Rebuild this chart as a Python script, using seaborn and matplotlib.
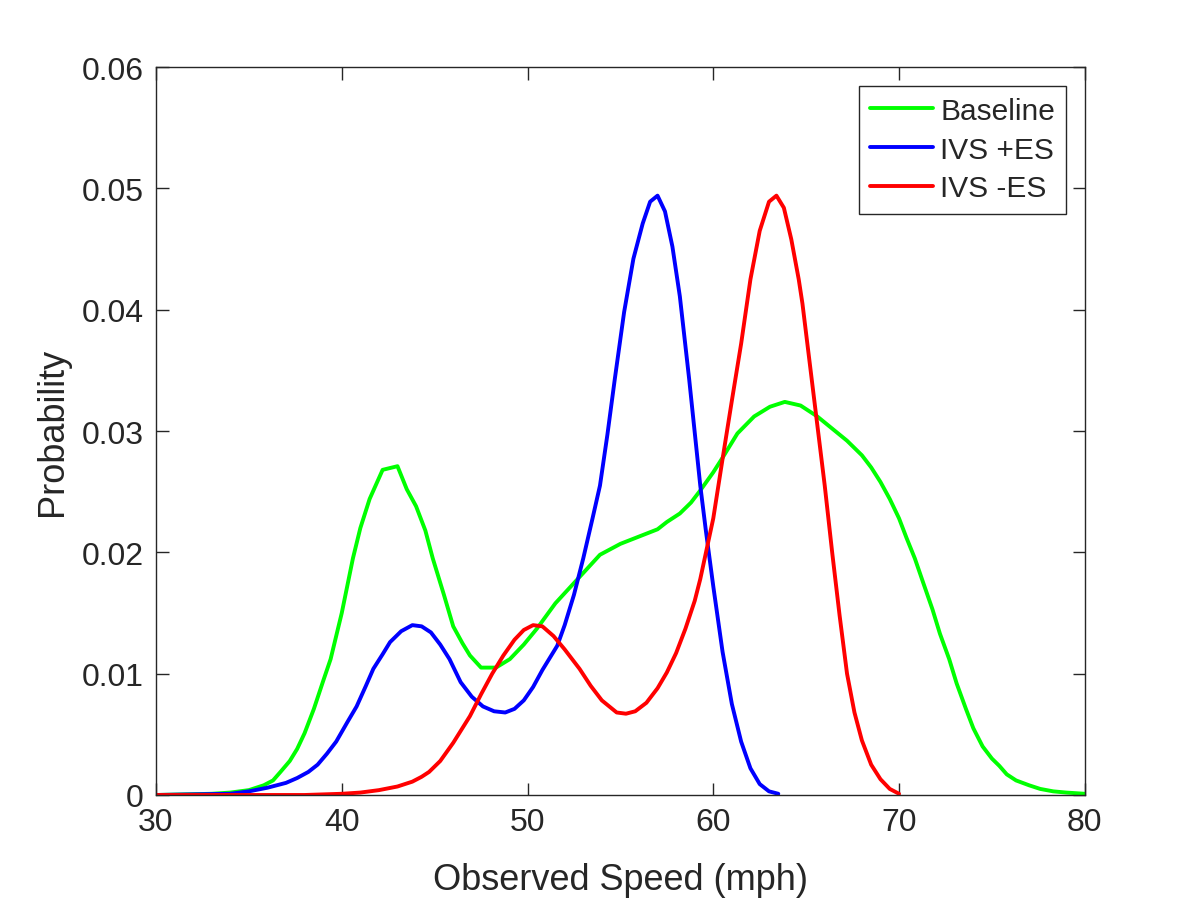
import matplotlib
matplotlib.use("Agg")
import matplotlib.pyplot as plt
import seaborn as sns
import pandas as pd
from matplotlib.ticker import FuncFormatter

# Baseline
base_x = [30, 33, 34, 35, 35.8, 36.3, 36.7, 37.2, 37.6, 38.0, 38.5, 39.0, 39.4, 40.0, 40.6,
          41.0, 41.5, 42.2, 43.0, 43.5, 44.0, 44.5, 44.9, 45.5, 46.0, 46.5, 46.9, 47.5, 48.3,
          49.05, 49.8, 50.5, 51.5, 52.7, 53.9, 55.0, 56.0, 57.0, 57.5, 58.2, 58.8, 59.3, 60.0,
          60.5, 61.3, 62.2, 63.05, 63.85, 64.7, 65.6, 66.4, 67.2, 68.0, 68.5, 69.0, 69.5, 70.0,
          70.4, 70.85, 71.3, 71.8, 72.2, 72.7, 73.1, 73.6, 74.0, 74.5, 75.0, 75.4, 75.8, 76.3,
          77.0, 77.6, 78.3, 79.0, 80.0]
base_y = [0.0, 0.0001, 0.0002, 0.0004, 0.0008, 0.0012, 0.0019, 0.0028, 0.0038, 0.0051, 0.0071,
          0.0094, 0.0112, 0.0150, 0.0195, 0.0220, 0.0244, 0.0268, 0.0271, 0.0252, 0.0238, 0.0218,
          0.0195, 0.0165, 0.0139, 0.0125, 0.0115, 0.0105, 0.0105, 0.0112, 0.0124, 0.0137, 0.0158,
          0.0178, 0.0198, 0.0207, 0.0213, 0.0219, 0.0225, 0.0232, 0.0241, 0.0251, 0.0266, 0.0278,
          0.0298, 0.0312, 0.0320, 0.0324, 0.0321, 0.0312, 0.0302, 0.0292, 0.0280, 0.0270, 0.0258,
          0.0244, 0.0228, 0.0212, 0.0195, 0.0175, 0.0153, 0.0133, 0.0112, 0.0092, 0.0071, 0.0055,
          0.0040, 0.0030, 0.0024, 0.0017, 0.0012, 0.0008, 0.0005, 0.0003, 0.0002, 0.0001]

# IVS +ES
pes_x = [30, 34, 35, 36, 37, 37.6, 38.2, 38.7, 39.2, 39.7, 40.3, 40.8, 41.3, 41.7, 42.2, 42.6,
         43.2, 43.8, 44.3, 44.8, 45.3, 45.8, 46.4, 47.0, 47.6, 48.2, 48.8, 49.3, 49.8, 50.3,
         50.8, 51.2, 51.6, 52.0, 52.5, 53.0, 53.5, 53.9, 54.3, 54.7, 55.2, 55.7, 56.2, 56.6,
         57.0, 57.4, 57.8, 58.2, 58.7, 59.3, 59.6, 60.0, 60.5, 61.0, 61.5, 62.0, 62.5, 63.0, 63.5]
pes_y = [0.0, 0.0001, 0.0003, 0.0006, 0.0010, 0.0014, 0.0019, 0.0025, 0.0034, 0.0044, 0.0060,
         0.0073, 0.0090, 0.0104, 0.0116, 0.0126, 0.0135, 0.0140, 0.0139, 0.0134, 0.0124, 0.0112,
         0.0093, 0.0081, 0.0073, 0.0069, 0.0068, 0.0071, 0.0078, 0.0089, 0.0103, 0.0113, 0.0123,
         0.0140, 0.0165, 0.0195, 0.0228, 0.0255, 0.0297, 0.0343, 0.0398, 0.0442, 0.0471, 0.0489,
         0.0494, 0.0481, 0.0452, 0.0411, 0.0343, 0.0255, 0.0218, 0.0172, 0.0118, 0.0075, 0.0044,
         0.0022, 0.0009, 0.0003, 0.0001]

# IVS -ES
nes_x = [30, 38, 40, 41, 42, 43, 43.8, 44.3, 44.7, 45.3, 46.0, 46.9, 47.5, 48.1, 48.7, 49.3,
         49.8, 50.3, 50.8, 51.4, 52.0, 52.8, 53.4, 54.0, 54.8, 55.3, 55.8, 56.4, 57.0, 57.5,
         58.0, 58.5, 59.0, 59.3, 60.0, 60.5, 61.0, 61.5, 62.0, 62.5, 63.0, 63.4, 63.8, 64.2,
         64.6, 64.8, 65.2, 65.6, 66.0, 66.4, 66.8, 67.2, 67.6, 68.0, 68.5, 69.0, 69.5, 70.0]
nes_y = [0.0, 0.0000, 0.0001, 0.0002, 0.0004, 0.0007, 0.0011, 0.0015, 0.0019, 0.0028, 0.0043,
         0.0065, 0.0083, 0.0100, 0.0115, 0.0128, 0.0136, 0.0140, 0.0139, 0.0131, 0.0120, 0.0104,
         0.0090, 0.0078, 0.0068, 0.0067, 0.0069, 0.0076, 0.0088, 0.0101, 0.0117, 0.0137, 0.0160,
         0.0178, 0.0228, 0.0277, 0.0325, 0.0372, 0.0425, 0.0465, 0.0489, 0.0494, 0.0484, 0.0458,
         0.0425, 0.0405, 0.0355, 0.0305, 0.0255, 0.0200, 0.0148, 0.0100, 0.0068, 0.0045, 0.0025,
         0.0013, 0.0005, 0.0001]

series_names = ["Baseline", "IVS +ES", "IVS -ES"]
colors = ["#00FF00", "#0000FF", "#FF0000"]

frames = []
for name, xs, ys in zip(series_names, [base_x, pes_x, nes_x], [base_y, pes_y, nes_y]):
    frames.append(pd.DataFrame({"speed": xs, "prob": ys, "series": name}))
df = pd.concat(frames, ignore_index=True)

sns.set_style("white")
plt.rcParams["font.family"] = ["Liberation Sans", "DejaVu Sans"]

fig = plt.figure(figsize=(12, 9.12), dpi=100)
ax = fig.add_axes([0.13, 0.1272, 0.774, 0.7982])

sns.lineplot(data=df, x="speed", y="prob", hue="series", hue_order=series_names,
             palette=colors, linewidth=2.8, ax=ax, sort=False, estimator=None)

ax.set_xlim(30, 80)
ax.set_ylim(0, 0.06)
ax.set_xticks([30, 40, 50, 60, 70, 80])
ax.set_yticks([0, 0.01, 0.02, 0.03, 0.04, 0.05, 0.06])
ax.yaxis.set_major_formatter(FuncFormatter(lambda v, p: "0" if abs(v) < 1e-12 else f"{v:.2f}"))

text_col = "#262626"
for s in ax.spines.values():
    s.set_visible(True)
    s.set_color(text_col)
    s.set_linewidth(1.0)
ax.tick_params(direction="in", length=9, width=1.0, colors=text_col, labelsize=23,
               top=True, right=True, bottom=True, left=True, pad=9)
for lab in ax.get_xticklabels() + ax.get_yticklabels():
    lab.set_color(text_col)

ax.set_xlabel("Observed Speed (mph)", fontsize=26, color=text_col, labelpad=18)
ax.set_ylabel("Probability", fontsize=26, color=text_col, labelpad=8)
ax.grid(False)

leg = ax.legend(loc="upper right", fontsize=21.5, frameon=True, fancybox=False,
                edgecolor=text_col, framealpha=1, borderaxespad=0.62, handlelength=2.1,
                handletextpad=0.25, labelspacing=0.36, borderpad=0.38)
leg.get_frame().set_linewidth(1.0)
for line in leg.get_lines():
    line.set_linewidth(2.8)

fig.savefig("out.png", dpi=100)
